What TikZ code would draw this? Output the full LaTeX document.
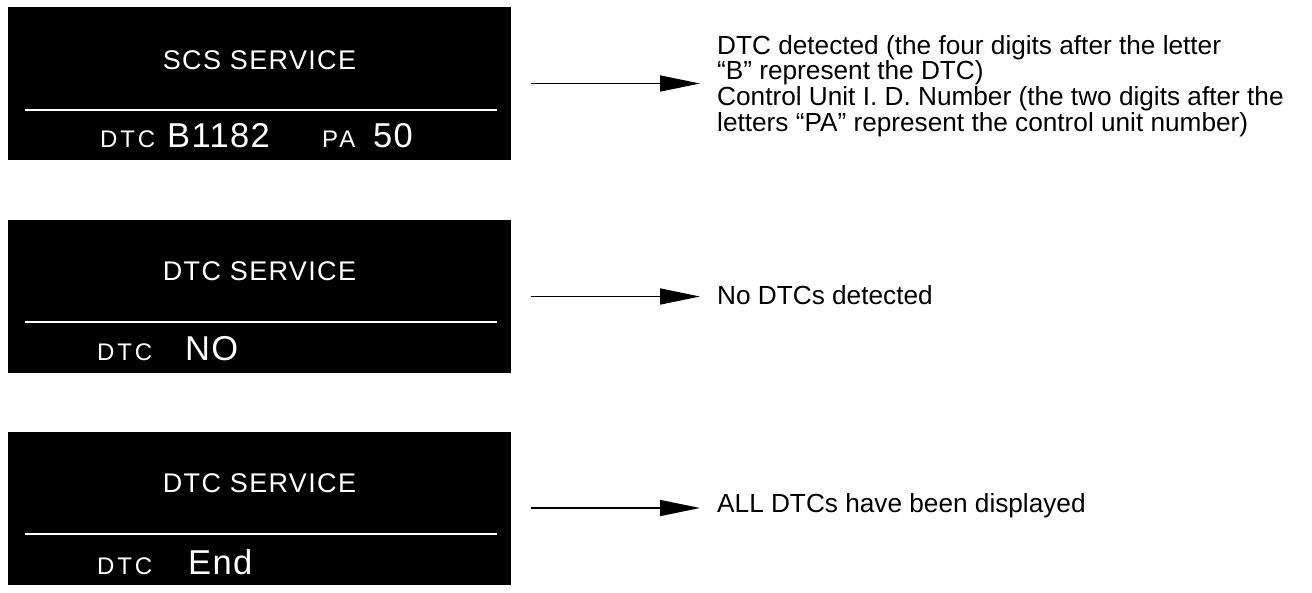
\documentclass[tikz,border=0pt]{standalone}
\usepackage{fontspec}
\setmainfont{Liberation Sans}
\newfontfamily\lcdfont[LetterSpace=5]{Liberation Sans}
\newfontfamily\lcdwidefont[LetterSpace=12]{Liberation Sans}
\newfontfamily\lcdbigfont[LetterSpace=4]{Liberation Sans}
\usetikzlibrary{arrows.meta}

\begin{document}
\begin{tikzpicture}[x=1pt,y=-1pt]

    \tikzset{
      screen/.style={
        fill=black,
        draw=none,
        inner sep=0pt,
        minimum width=503pt,
        minimum height=153pt,
      },
      separator/.style={white, line width=2.5pt},
      lcdtitle/.style={text=white, inner sep=0pt, font=\lcdfont\fontsize{27}{27}\selectfont},
      lcdsmall/.style={text=white, inner sep=0pt, anchor=base west, font=\lcdwidefont\fontsize{24}{24}\selectfont},
      lcdbig/.style={text=white, inner sep=0pt, anchor=base west, font=\lcdbigfont\fontsize{34.5}{34.5}\selectfont},
      msg/.style={anchor=west, inner sep=0pt, align=left, font=\fontsize{26.2}{25.7}\selectfont},
      arr/.style={line width=1.6pt, -{Triangle[length=40pt,width=16pt]}},
    }
    \useasboundingbox (0,0) rectangle (1312,592);

    % first screen
    \node[screen] (scr1) at (259.5,83.5) {};
    \draw[separator] (25,110) -- (497,110);
    \node[lcdtitle] (tit1) at (259.5,60) {SCS SERVICE};
    \node[lcdsmall] (dtc1) at (100,147) {DTC};
    \node[lcdbig] (code1) at (167,147) {B1182};
    \node[lcdsmall] (pa1) at (322,147) {PA};
    \node[lcdbig] (unit1) at (373,147) {50};

    % second screen
    \node[screen] (scr2) at (259.5,296.5) {};
    \draw[separator] (25,322) -- (497,322);
    \node[lcdtitle] (tit2) at (259.5,271) {DTC SERVICE};
    \node[lcdsmall] (dtc2) at (97,360) {DTC};
    \node[lcdbig] (code2) at (185,360) {NO};

    % third screen
    \node[screen] (scr3) at (259.5,508) {};
    \draw[separator] (25,534) -- (497,534);
    \node[lcdtitle] (tit3) at (259.5,483) {DTC SERVICE};
    \node[lcdsmall] (dtc3) at (97,574) {DTC};
    \node[lcdbig] (code3) at (188,574) {End};

    \node[msg] (msg1) at (717,86) {DTC detected (the four digits after the letter\\``B'' represent the DTC)\\Control Unit I. D. Number (the two digits after the\\letters ``PA'' represent the control unit number)};
    \node[msg] (msg2) at (717,295) {No DTCs detected};
    \node[msg] (msg3) at (717,506) {ALL DTCs have been displayed};

    \draw[arr] ([xshift=20pt]scr1.east) -- ([xshift=-17pt]scr1.east -| msg1.west);
    \draw[arr] ([xshift=20pt]scr2.east) -- ([xshift=-17pt]scr2.east -| msg2.west);
    \draw[arr] ([xshift=20pt]scr3.east) -- ([xshift=-17pt]scr3.east -| msg3.west);

\end{tikzpicture}
\end{document}
